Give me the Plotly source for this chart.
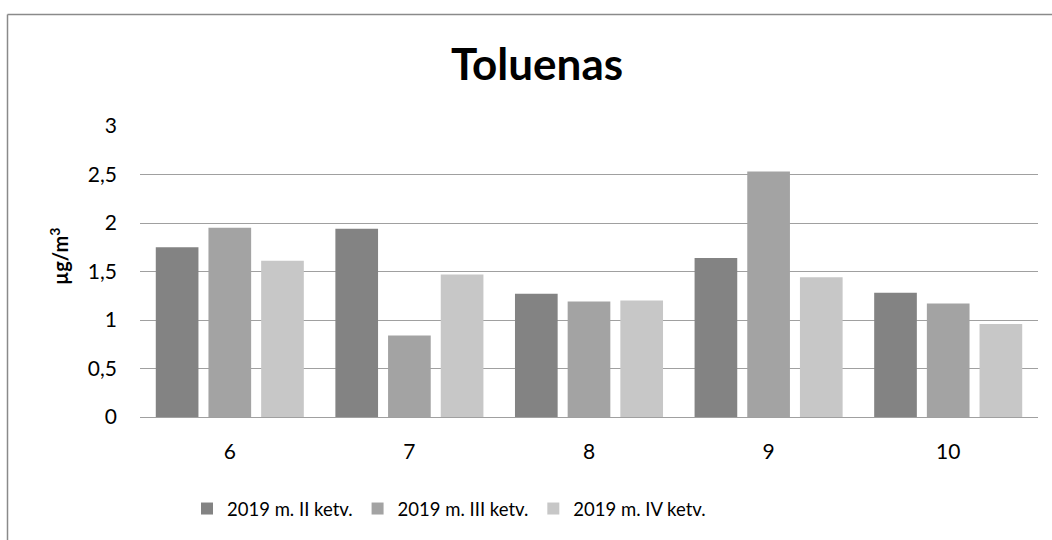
import plotly.graph_objects as go

categories = ["6", "7", "8", "9", "10"]
series_names = ["2019 m. II ketv.", "2019 m. III ketv.", "2019 m. IV ketv."]
q2_values = [1.75, 1.94, 1.27, 1.64, 1.28]
q3_values = [1.95, 0.84, 1.19, 2.53, 1.17]
q4_values = [1.61, 1.47, 1.20, 1.44, 0.96]
y_ticks = [0, 0.5, 1, 1.5, 2, 2.5, 3]

colors = ["#838383", "#a3a3a3", "#c7c7c7"]
FONT = "Lato"

fig = go.Figure()
for name, vals, col in zip(series_names, [q2_values, q3_values, q4_values], colors):
    fig.add_trace(go.Bar(
        x=categories, y=vals, name=name,
        marker=dict(color=col, line=dict(width=0)),
    ))

W, H = 1052, 540
ml, mr, mt, mb = 140, 14, 126, 123
pw, ph = W - ml - mr, H - mt - mb

def px_x(x):
    return (x - ml) / pw

def px_y(y):
    return (H - mb - y) / ph

fig.update_layout(
    width=W, height=H,
    margin=dict(l=ml, r=mr, t=mt, b=mb, autoexpand=False),
    paper_bgcolor="white", plot_bgcolor="white",
    separators=",.",
    barmode="group", bargap=0.12, bargroupgap=0.19,
    font=dict(family=FONT, color="#000000"),
    title=dict(text="<b>Toluenas</b>", font=dict(family=FONT, size=44, color="#000"),
               x=537 / W, xref="container", xanchor="center",
               y=1 - 65 / H, yref="container", yanchor="middle"),
    showlegend=True,
    legend=dict(orientation="h", xref="container", yref="container",
                x=187 / W, xanchor="left", y=1 - 509 / H, yanchor="middle",
                font=dict(family=FONT, size=18.5, color="#000"),
                bgcolor="rgba(0,0,0,0)"),
    xaxis=dict(type="category", showline=True, linecolor="#a0a0a0", linewidth=1,
               ticks="", showgrid=False, tickfont=dict(family=FONT, size=21, color="#000"),
               ticklabelstandoff=16),
    yaxis=dict(range=[0, 3], tickvals=y_ticks, showgrid=True, gridcolor="#a0a0a0",
               gridwidth=1, zeroline=False, showline=False, ticks="",
               tickfont=dict(family=FONT, size=21, color="#000"),
               ticklabelstandoff=22),
    annotations=[dict(text="<b>µg/m<sup>3</sup></b>", textangle=-90,
                      xref="paper", yref="paper", x=px_x(59), y=px_y(257),
                      xanchor="center", yanchor="middle", showarrow=False,
                      font=dict(family=FONT, size=20, color="#000"))],
    shapes=[
        dict(type="line", xref="paper", yref="paper", x0=px_x(7.5), x1=px_x(7.5),
             y0=px_y(14.5), y1=px_y(545), line=dict(color="#8a8a8a", width=1.5)),
        dict(type="line", xref="paper", yref="paper", x0=px_x(7.5), x1=px_x(1060),
             y0=px_y(14.5), y1=px_y(14.5), line=dict(color="#8a8a8a", width=1.5)),
    ],
)

fig.write_html("out.html", config={"displayModeBar": False},
               post_script="document.body.style.margin='0';document.body.style.overflow='hidden';")
